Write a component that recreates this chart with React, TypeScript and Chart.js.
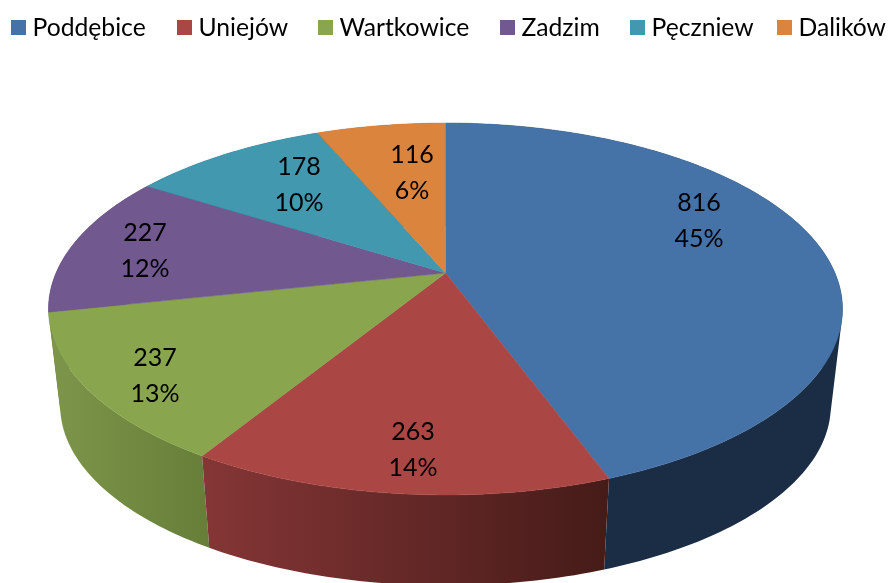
import React, { useEffect, useRef } from "react";
import { Chart, registerables } from "chart.js";

Chart.register(...registerables);

const categories = ["Poddębice", "Uniejów", "Wartkowice", "Zadzim", "Pęczniew", "Dalików"];
const values = [816, 263, 237, 227, 178, 116];
const percentLabels = ["45%", "14%", "13%", "12%", "10%", "6%"];

const topColors = ["#4572A7", "#AA4643", "#89A54E", "#71588F", "#4198AF", "#DB843D"];
const wallStart = ["#1B2D45", "#853636", "#7D964A", "#443558", "#275B69", "#834F25"];
const wallEnd = ["#1B2D45", "#451B18", "#667E38", "#443558", "#275B69", "#834F25"];

// centre of each data label, on the canvas
const labelCentres: [number, number][] = [
  [699, 221],
  [413, 450],
  [155, 376],
  [145, 251],
  [299, 185],
  [412, 173],
];
const legendLefts = [11, 177, 318, 500, 630, 777];

const FONT = "Lato, Carlito, 'Open Sans', sans-serif";
const LABEL_GAP = 18;

type Face = { x: number; y: number; a: number; b: number; k: number };
const topFace: Face = { x: 445.5, y: 273, a: 389.5, b: 179, k: 0.1935 };
const bottomFace: Face = { x: 445.5, y: 371, a: 378, b: 173, k: 0.1935 };

// Perspective view of a disc: maps a pie angle (canvas radians, -PI/2 at 12 o'clock)
function project(f: Face, angle: number, r = 1): [number, number] {
  const u = Math.cos(angle) * r;
  const v = Math.sin(angle) * r;
  const w = 1 - f.k * v;
  return [f.x + (f.a * u) / w, f.y + (f.b * v) / w];
}

function sweep(start: number, end: number): number[] {
  const n = Math.max(2, Math.ceil(((end - start) * 180) / Math.PI));
  const out: number[] = [];
  for (let i = 0; i <= n; i++) out.push(start + ((end - start) * i) / n);
  return out;
}

const projectedPie = {
  id: "projectedPie",
  beforeDatasetsDraw(chart: any) {
    const ctx: CanvasRenderingContext2D = chart.ctx;
    const arcs = chart.getDatasetMeta(0).data as any[];
    const slices = arcs.map((arc, i) => ({ i, start: arc.startAngle as number, end: arc.endAngle as number }));

    ctx.save();
    // side walls, farthest first
    const depthOrder = [...slices].sort(
      (p, q) => Math.sin((p.start + p.end) / 2) - Math.sin((q.start + q.end) / 2)
    );
    for (const s of depthOrder) {
      const angles = sweep(s.start, s.end);
      const xs = angles.map((t) => project(topFace, t)[0]).concat(angles.map((t) => project(bottomFace, t)[0]));
      const grad = ctx.createLinearGradient(Math.min(...xs), 0, Math.max(...xs), 0);
      grad.addColorStop(0, wallStart[s.i]);
      grad.addColorStop(1, wallEnd[s.i]);
      ctx.fillStyle = grad;
      // one path per slice, so that neighbouring strips leave no seams
      ctx.beginPath();
      for (let j = 0; j < angles.length - 1; j++) {
        const a = project(topFace, angles[j]);
        const b = project(topFace, angles[j + 1]);
        const c = project(bottomFace, angles[j + 1]);
        const d = project(bottomFace, angles[j]);
        const area =
          (b[0] - a[0]) * (c[1] - a[1]) - (b[1] - a[1]) * (c[0] - a[0]) +
          (c[0] - a[0]) * (d[1] - a[1]) - (c[1] - a[1]) * (d[0] - a[0]);
        const quad = area >= 0 ? [a, b, c, d] : [d, c, b, a];
        ctx.moveTo(quad[0][0], quad[0][1]);
        ctx.lineTo(quad[1][0], quad[1][1]);
        ctx.lineTo(quad[2][0], quad[2][1]);
        ctx.lineTo(quad[3][0], quad[3][1]);
        ctx.closePath();
      }
      ctx.fill("nonzero");
    }
    // top faces
    for (const s of slices) {
      ctx.beginPath();
      ctx.moveTo(topFace.x, topFace.y);
      for (const t of sweep(s.start, s.end)) {
        const p = project(topFace, t);
        ctx.lineTo(p[0], p[1]);
      }
      ctx.closePath();
      ctx.fillStyle = topColors[s.i];
      ctx.strokeStyle = topColors[s.i];
      ctx.lineWidth = 0.5;
      ctx.fill();
      ctx.stroke();
    }
    // data labels
    ctx.fillStyle = "#000000";
    ctx.font = `25px ${FONT}`;
    ctx.textAlign = "center";
    ctx.textBaseline = "middle";
    values.forEach((value, i) => {
      const [x, y] = labelCentres[i];
      ctx.fillText(String(value), x, y - LABEL_GAP);
      ctx.fillText(percentLabels[i], x, y + LABEL_GAP);
    });
    ctx.restore();
    return false;
  },
};

export default function App() {
  const ref = useRef<HTMLCanvasElement>(null);
  useEffect(() => {
    const chart = new Chart(ref.current!, {
      type: "pie",
      data: {
        labels: categories,
        datasets: [{ data: values, backgroundColor: topColors, borderWidth: 0 }],
      },
      options: {
        responsive: false,
        animation: false,
        plugins: { legend: { display: false }, tooltip: { enabled: false } },
      },
      plugins: [projectedPie],
    } as any);
    return () => chart.destroy();
  }, []);

  return (
    <div style={{ position: "absolute", left: 0, top: 0, width: 891, height: 583, overflow: "hidden", background: "#fff" }}>
      <canvas ref={ref} width={891} height={583} style={{ display: "block" }} />
      {categories.map((name, i) => (
        <div key={name} style={{ position: "absolute", left: legendLefts[i], top: 11, height: 32, whiteSpace: "nowrap" }}>
          <span style={{ position: "absolute", left: 0, top: 9, width: 15, height: 15, background: topColors[i] }} />
          <span style={{ position: "absolute", left: 21.5, top: 0, lineHeight: "32px", fontFamily: FONT, fontSize: 24.7, color: "#000" }}>
            {name}
          </span>
        </div>
      ))}
    </div>
  );
}
